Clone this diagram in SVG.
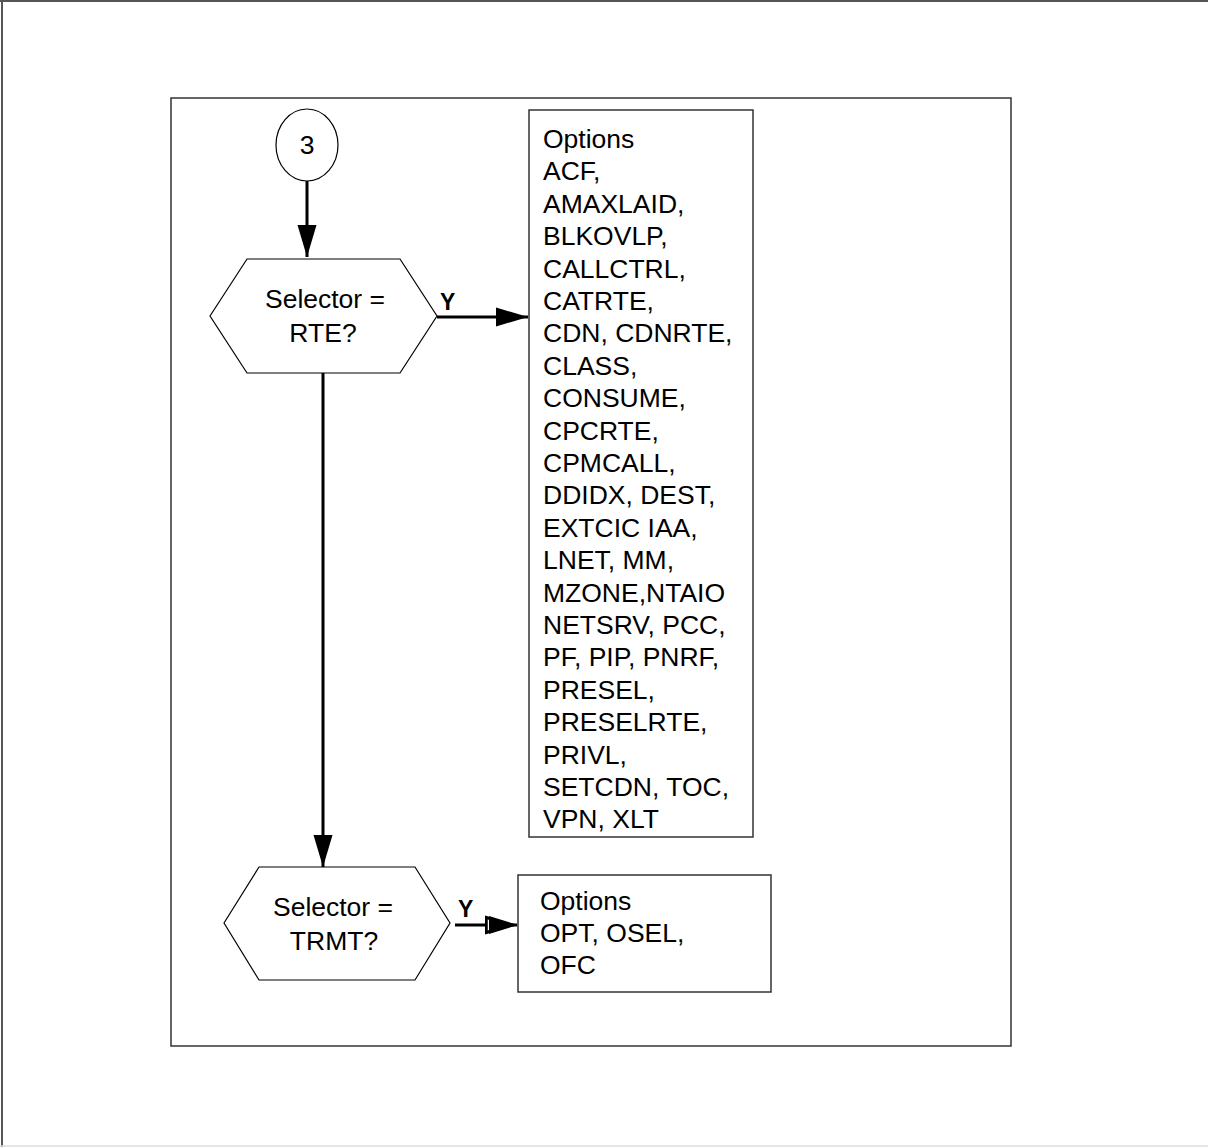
<svg xmlns="http://www.w3.org/2000/svg" width="1208" height="1147" viewBox="0 0 1208 1147">
<defs>
<marker id="ah" markerUnits="userSpaceOnUse" markerWidth="34" markerHeight="22" refX="32" refY="11" orient="auto">
<path d="M0,1.5 L32,11 L0,20.5 Z" fill="#000"/>
</marker>
</defs>
<style>
.t{font-family:"Liberation Sans",Arial,sans-serif;font-size:26.5px;fill:#000}
.y{font-family:"Liberation Sans",Arial,sans-serif;font-size:23px;font-weight:bold;fill:#000}
.shape{fill:#fff;stroke:#000;stroke-width:1.2}
.box{fill:#fff;stroke:#333;stroke-width:1.5}
.conn{stroke:#000;stroke-width:3;fill:none}
</style>
<rect width="1208" height="1147" fill="#fff"/>
<line x1="0" y1="1" x2="1208" y2="1" stroke="#555" stroke-width="2"/>
<line x1="2" y1="0" x2="2" y2="1147" stroke="#555" stroke-width="2"/>
<line x1="0" y1="1146" x2="1208" y2="1146" stroke="#ddd" stroke-width="1.5"/>
<rect id="frame" x="171" y="98" width="840" height="948" fill="none" stroke="#333" stroke-width="1.5"/>

<g id="connectors">
<line class="conn" x1="307" y1="181" x2="307" y2="257" marker-end="url(#ah)"/>
<line class="conn" x1="323" y1="373" x2="323" y2="867" marker-end="url(#ah)"/>
<line class="conn" x1="437" y1="317" x2="528" y2="317" marker-end="url(#ah)"/>
<line class="conn" x1="455" y1="925" x2="517" y2="925" marker-end="url(#ah)"/>
<path d="M487,918 L500,925 L487,932 Z" fill="#fff" stroke="#000" stroke-width="1.5"/>
<path d="M489,916 L518,925 L489,934 Z" fill="#000"/>
</g>

<g id="connector3">
<ellipse class="shape" cx="307" cy="145" rx="31" ry="36"/>
<text class="t" x="307" y="154" text-anchor="middle">3</text>
</g>

<g id="decision-rte">
<polygon class="shape" points="210,316 247,259 400,259 437,316 400,373 247,373"/>
<text class="t" text-anchor="middle"><tspan x="325" y="308">Selector =</tspan><tspan x="323" y="342">RTE?</tspan></text>
<text class="y" x="440" y="310">Y</text>
</g>

<g id="options-rte">
<rect class="box" x="529" y="110" width="224" height="727"/>
<text class="t">
<tspan x="543" y="148">Options</tspan>
<tspan x="543" y="180.4">ACF,</tspan>
<tspan x="543" y="212.8">AMAXLAID,</tspan>
<tspan x="543" y="245.2">BLKOVLP,</tspan>
<tspan x="543" y="277.6">CALLCTRL,</tspan>
<tspan x="543" y="310">CATRTE,</tspan>
<tspan x="543" y="342.4">CDN, CDNRTE,</tspan>
<tspan x="543" y="374.8">CLASS,</tspan>
<tspan x="543" y="407.2">CONSUME,</tspan>
<tspan x="543" y="439.6">CPCRTE,</tspan>
<tspan x="543" y="472">CPMCALL,</tspan>
<tspan x="543" y="504.4">DDIDX, DEST,</tspan>
<tspan x="543" y="536.8">EXTCIC IAA,</tspan>
<tspan x="543" y="569.2">LNET, MM,</tspan>
<tspan x="543" y="601.6">MZONE,NTAIO</tspan>
<tspan x="543" y="634">NETSRV, PCC,</tspan>
<tspan x="543" y="666.4">PF, PIP, PNRF,</tspan>
<tspan x="543" y="698.8">PRESEL,</tspan>
<tspan x="543" y="731.2">PRESELRTE,</tspan>
<tspan x="543" y="763.6">PRIVL,</tspan>
<tspan x="543" y="796">SETCDN, TOC,</tspan>
<tspan x="543" y="828.4">VPN, XLT</tspan>
</text>
</g>

<g id="decision-trmt">
<polygon class="shape" points="224,923 259,867 415,867 450,923 415,980 259,980"/>
<text class="t" text-anchor="middle"><tspan x="333" y="916">Selector =</tspan><tspan x="334" y="950">TRMT?</tspan></text>
<text class="y" x="458" y="917">Y</text>
</g>

<g id="options-trmt">
<rect class="box" x="518" y="875" width="253" height="117"/>
<text class="t"><tspan x="540" y="910">Options</tspan><tspan x="540" y="942">OPT, OSEL,</tspan><tspan x="540" y="974">OFC</tspan></text>
</g>
</svg>
